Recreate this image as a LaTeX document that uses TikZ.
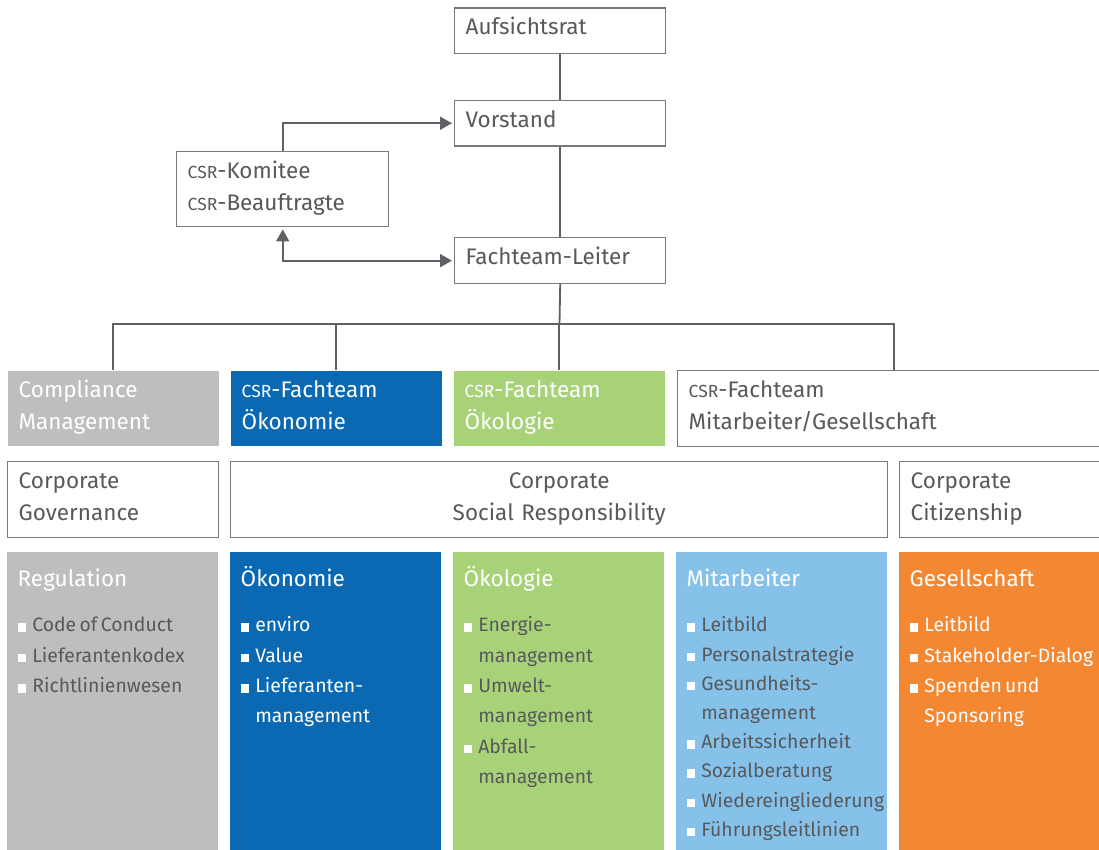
\documentclass[tikz,border=0pt]{standalone}
\usepackage{fontspec}
\setmainfont{Fira Sans}
\usetikzlibrary{positioning, arrows.meta}

\definecolor{colGray}{HTML}{BEBEBC}
\definecolor{colBlue}{HTML}{0A69B2}
\definecolor{colGreen}{HTML}{A8D278}
\definecolor{colLight}{HTML}{86C1EA}
\definecolor{colOrange}{HTML}{F48732}
\definecolor{txtGray}{HTML}{58595B}
\definecolor{lineGray}{HTML}{5F6164}
\definecolor{boxGray}{HTML}{77787B}

\newcommand{\bigfont}{\fontsize{22.5pt}{32pt}\selectfont}
\newcommand{\itemfont}{\fontsize{19.4pt}{30.3pt}\selectfont\hyphenpenalty=10000 \exhyphenpenalty=10000 }
\newcommand{\csr}{{\fontsize{17.5pt}{32pt}\selectfont CSR}}
\newcommand{\coltitle}[2][30.3pt]{{\bigfont\textcolor{white}{#2}\par}\itemfont\setlength{\baselineskip}{#1}\vspace{\dimexpr45pt-#1\relax}}
\newcommand{\itm}[1]{\par\hangindent=14.6pt\hangafter=1\noindent\makebox[14.6pt][l]{\textcolor{white}{\rule{8.5pt}{8.5pt}}}#1}

\begin{document}
\begin{tikzpicture}[
  x=1pt, y=-1pt,
  orgbox/.style={
    anchor=north west, draw=boxGray, line width=1.4pt, fill=white,
    inner xsep=11pt, inner ysep=0pt, align=left,
    text=txtGray, font=\bigfont, text height=27pt
  },
  topbox/.style={orgbox, text width=189pt, text depth=18.7pt},
  rowbox/.style={orgbox, text width=189pt, text depth=48.7pt},
  colbox/.style={
    anchor=north west, inner xsep=10.5pt, inner ysep=0pt,
    text width=190pt, align=left,
    text height=34.7pt, text depth=265.3pt
  },
  conn/.style={draw=lineGray, line width=1.8pt},
  arr/.style={conn, -{Triangle[length=12pt, width=13pt]}, shorten >=2pt},
  dblarr/.style={conn, {Triangle[length=12pt, width=13pt]}-{Triangle[length=12pt, width=13pt]}, shorten >=2pt, shorten <=2pt}
]
\useasboundingbox (0,0) rectangle (1099,850);

\node[topbox] (aufs) at (454,7.3) {Aufsichtsrat};
\node[topbox, below=45.3pt of aufs] (vorst) {Vorstand};
\node[topbox, below=90.3pt of vorst] (leiter) {Fachteam-Leiter};
\node[orgbox, text width=190pt, text depth=48.3pt] (komitee) at (176,150.7) {\csr-Komitee\\\csr-Beauftragte};

\node[rowbox, draw=none, fill=colGray, text=white] (compl) at (7,370) {Compliance\\Management};
\node[rowbox, draw=none, fill=colBlue, text=white] (oekon) at (230,370) {\csr-Fachteam\\Ökonomie};
\node[rowbox, draw=none, fill=colGreen, text=white] (oekol) at (453,370) {\csr-Fachteam\\Ökologie};
\node[rowbox, text width=410pt] (mitges) at (677,370) {\csr-Fachteam\\Mitarbeiter/Gesellschaft};

\node[rowbox] (gov) at (7,461) {Corporate\\Governance};
\node[rowbox, text width=635pt, align=center] (csr) at (230,461) {Corporate\\Social Responsibility};
\node[rowbox] (citiz) at (899,461) {Corporate\\Citizenship};

\node[colbox, fill=colGray, text=txtGray] (regul) at (7,552) {\coltitle{Regulation}\itm{Code of Conduct}\itm{Lieferantenkodex}\itm{Richtlinienwesen}\par};
\node[colbox, fill=colBlue, text=white] (oekonL) at (230,552) {\coltitle{Ökonomie}\itm{enviro}\itm{Value}\itm{Lieferanten-\newline management}\par};
\node[colbox, fill=colGreen, text=txtGray] (oekolL) at (453,552) {\coltitle{Ökologie}\itm{Energie-\newline management}\itm{Umwelt-\newline management}\itm{Abfall-\newline management}\par};
\node[colbox, fill=colLight, text=txtGray] (mitarb) at (676,552) {\coltitle[29.2pt]{Mitarbeiter}\itm{Leitbild}\itm{Personalstrategie}\itm{Gesundheits-\newline management}\itm{Arbeitssicherheit}\itm{Sozialberatung}\itm{Wiedereingliederung}\itm{Führungsleitlinien}\par};
\node[colbox, fill=colOrange, text=white] (gesell) at (899,552) {\coltitle{Gesellschaft}\itm{Leitbild}\itm{Stakeholder-Dialog}\itm{Spenden und\newline Sponsoring}\par};

\coordinate (bus) at (559.5,324.3);

\draw[conn] (aufs.south) -- (vorst.north);
\draw[conn] (vorst.south) -- (leiter.north);
\draw[arr] (komitee.north) |- (vorst.west);
\draw[dblarr] (komitee.south) |- (leiter.west);
\draw[conn] (leiter.south) -- (bus);
\draw[conn] (compl.north) |- (bus) -| (mitges.north);
\draw[conn] (oekon.north) -- (oekon.north |- bus);
\draw[conn] (oekol.north) -- (oekol.north |- bus);

\end{tikzpicture}
\end{document}
